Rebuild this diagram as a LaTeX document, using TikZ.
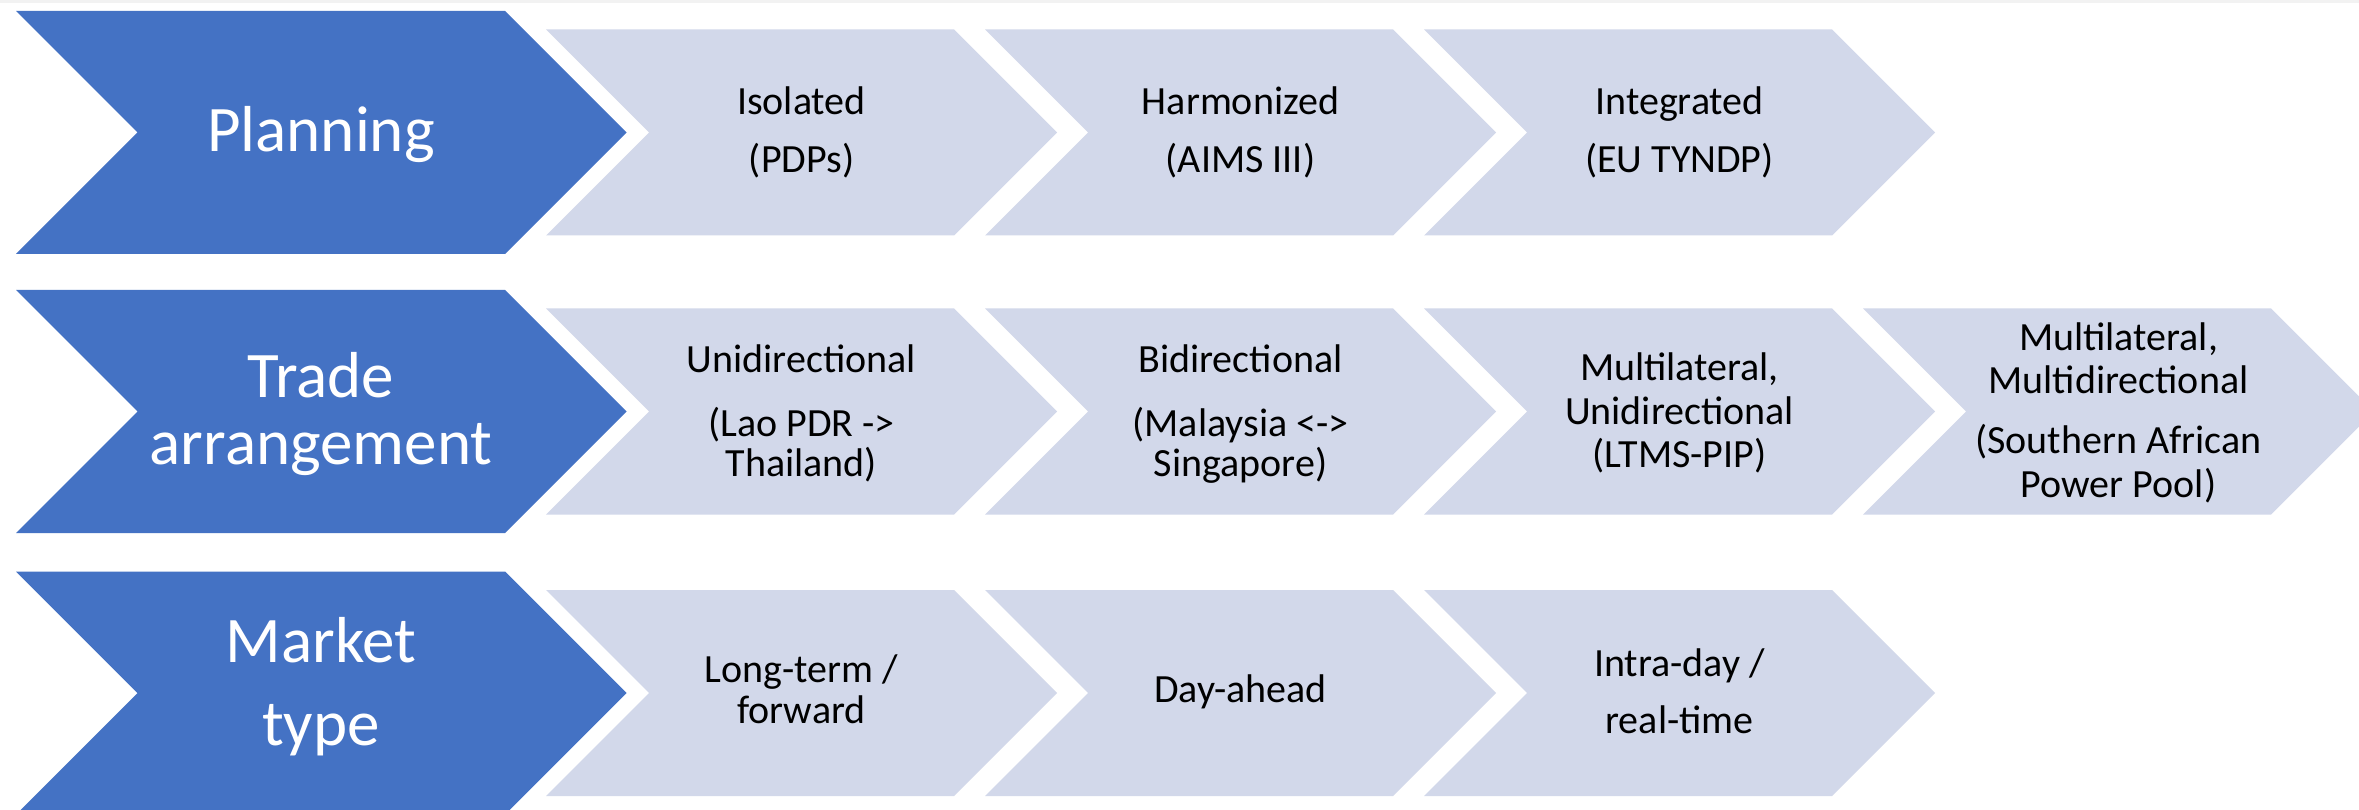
\documentclass[tikz,border=0pt]{standalone}
\usepackage{fontspec}
\setmainfont{Carlito}
\definecolor{chevblue}{RGB}{68,114,196}
\definecolor{chevlight}{RGB}{210,216,234}
\definecolor{topgray}{RGB}{242,242,242}
\newcommand{\mychev}[5]{\fill[#1] (#2,#3) -- ++(#4,0) -- ++(#5,#5) -- ++(-#5,#5) -- ++(-#4,0) -- ++(#5,-#5) -- cycle;}
\begin{document}
\begin{tikzpicture}[x=1pt,y=-1pt,
  bigtxt/.style={anchor=base,inner sep=0pt,text=white,font=\fontsize{65}{78}\selectfont},
  smalltxt/.style={anchor=base,inner sep=0pt,text=black,font=\fontsize{40}{48}\selectfont}]
\useasboundingbox (0,0) rectangle (2359,810);
\fill[white] (0,0) rectangle (2359,810);
\fill[topgray] (0,0) rectangle (2359,3);
% row 1
\mychev{chevblue}{16}{11}{489}{121.5}
\mychev{chevlight}{546}{29.5}{408}{103}
\mychev{chevlight}{985}{29.5}{408}{103}
\mychev{chevlight}{1424}{29.5}{408}{103}
% row 2
\mychev{chevblue}{16}{290}{489}{121.5}
\mychev{chevlight}{546}{308.5}{408}{103}
\mychev{chevlight}{985}{308.5}{408}{103}
\mychev{chevlight}{1424}{308.5}{408}{103}
\mychev{chevlight}{1863}{308.5}{408}{103}
% row 3
\mychev{chevblue}{16}{571.5}{489}{121.5}
\mychev{chevlight}{546}{590}{408}{103}
\mychev{chevlight}{985}{590}{408}{103}
\mychev{chevlight}{1424}{590}{408}{103}
% blue labels
\node[bigtxt] (plan) at (321,152) {Planning};
\node[bigtxt] (tradea) at (321,397) {Trade};
\node[bigtxt] (tradeb) at (321,464) {arrangement};
\node[bigtxt] (marka) at (321,662) {Market};
\node[bigtxt] (markb) at (321,745) {type};
% row 1 texts
\node[smalltxt] (r1c1a) at (801.5,115) {Isolated};
\node[smalltxt] (r1c1b) at (801.5,173) {(PDPs)};
\node[smalltxt] (r1c2a) at (1240.5,115) {Harmonized};
\node[smalltxt] (r1c2b) at (1240.5,173) {(AIMS III)};
\node[smalltxt] (r1c3a) at (1679.5,115) {Integrated};
\node[smalltxt] (r1c3b) at (1679.5,173) {(EU TYNDP)};
% row 2 texts
\node[smalltxt] (r2c1a) at (801.5,372) {Unidirectional};
\node[smalltxt] (r2c1b) at (801.5,436) {(Lao PDR ->};
\node[smalltxt] (r2c1c) at (801.5,476) {Thailand)};
\node[smalltxt] (r2c2a) at (1240.5,372) {Bidirectional};
\node[smalltxt] (r2c2b) at (1240.5,436) {(Malaysia <->};
\node[smalltxt] (r2c2c) at (1240.5,476) {Singapore)};
\node[smalltxt] (r2c3a) at (1679.5,380) {Multilateral,};
\node[smalltxt] (r2c3b) at (1679.5,424) {Unidirectional};
\node[smalltxt] (r2c3c) at (1679.5,467) {(LTMS-PIP)};
\node[smalltxt] (r2c4a) at (2118.5,350) {Multilateral,};
\node[smalltxt] (r2c4b) at (2118.5,393) {Multidirectional};
\node[smalltxt] (r2c4c) at (2118.5,453) {(Southern African};
\node[smalltxt] (r2c4d) at (2118.5,497) {Power Pool)};
% row 3 texts
\node[smalltxt] (r3c1a) at (801.5,682) {Long-term /};
\node[smalltxt] (r3c1b) at (801.5,723) {forward};
\node[smalltxt] (r3c2a) at (1240.5,702) {Day-ahead};
\node[smalltxt] (r3c3a) at (1679.5,676) {Intra-day /};
\node[smalltxt] (r3c3b) at (1679.5,733) {real-time};
\end{tikzpicture}
\end{document}
